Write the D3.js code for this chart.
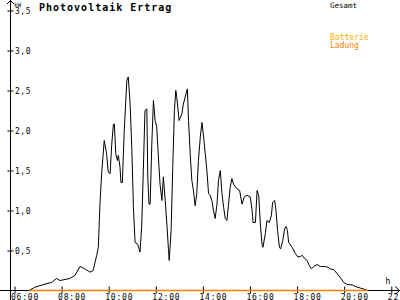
<!DOCTYPE html>
<html><head><meta charset="utf-8">
<script src="https://cdn.jsdelivr.net/npm/d3@7"></script>
<style>
html,body{margin:0;padding:0;background:#fff;}
svg{display:block;}
text{font-family:"DejaVu Sans Mono",monospace;}
</style></head>
<body><svg id="c" width="400" height="300"></svg>
<script>
const title = "Photovoltaik Ertrag";
const yUnit = "kW";
const xUnit = "h";
const legendGesamt = "Gesamt";
const legendBatterie = "Batterie";
const legendLadung = "Ladung";
const xTicks = [6, 8, 10, 12, 14, 16, 18, 20, 22];
const yTicks = [0.5, 1.0, 1.5, 2.0, 2.5, 3.0, 3.5];
const times = [6.61,6.86,7.29,7.57,7.79,7.93,8.35,8.57,8.78,8.99,
9.20,9.34,9.49,9.56,9.63,9.70,9.81,9.91,9.98,10.06,
10.13,10.20,10.24,10.30,10.37,10.41,10.48,10.52,10.58,10.66,
10.77,10.83,10.91,10.98,11.05,11.12,11.23,11.33,11.40,11.47,
11.54,11.62,11.66,11.71,11.76,11.83,11.90,11.97,12.04,12.11,
12.18,12.26,12.32,12.40,12.47,12.54,12.57,12.65,12.72,12.79,
12.85,12.89,12.99,13.11,13.17,13.34,13.39,13.46,13.53,13.60,
13.67,13.74,13.81,13.89,13.96,14.03,14.10,14.17,14.24,14.31,
14.38,14.45,14.52,14.60,14.66,14.74,14.81,14.88,14.95,15.02,
15.09,15.16,15.23,15.30,15.45,15.56,15.66,15.76,15.87,16.01,
16.09,16.13,16.23,16.30,16.37,16.44,16.51,16.55,16.65,16.72,
16.82,16.91,16.96,17.05,17.11,17.17,17.25,17.30,17.39,17.47,
17.53,17.59,17.64,17.79,17.93,18.03,18.14,18.21,18.32,18.43,
18.52,18.61,18.71,18.85,18.99,19.17,19.32,19.42,19.56,19.70,
19.84,19.98,20.13,20.34,20.48,20.69,20.91,21.0];
const gesamt = [0,0.04,0.08,0.10,0.15,0.125,0.15,0.19,0.30,0.27,
0.23,0.25,0.44,0.54,1.09,1.46,1.875,1.71,1.48,1.46,
1.83,2.08,2.08,1.71,1.625,1.69,1.54,1.35,1.35,2.0,
2.625,2.67,2.33,1.79,1.04,0.60,0.58,0.48,0.79,1.5,
2.25,2.27,1.42,1.08,1.08,1.83,2.375,2.125,2.04,1.67,
1.33,1.125,1.42,1.125,0.83,0.5,0.375,0.75,1.54,2.25,
2.5,2.42,2.125,2.21,2.33,2.52,2.125,1.71,1.375,1.25,
1.06,1.21,1.625,1.92,2.10,1.92,1.71,1.5,1.21,1.19,
1.125,1.0,0.90,1.08,1.375,1.5,1.21,1.04,0.90,0.875,
1.08,1.29,1.40,1.33,1.27,1.25,1.08,1.17,1.19,1.17,
1.0,0.85,0.85,1.25,1.19,0.83,0.58,0.54,0.71,0.875,
0.85,0.94,1.10,1.125,0.98,0.75,0.54,0.52,0.625,0.77,
0.80,0.75,0.60,0.54,0.46,0.42,0.425,0.44,0.40,0.375,
0.31,0.27,0.30,0.325,0.30,0.30,0.29,0.27,0.26,0.21,
0.16,0.10,0.075,0.07,0.05,0.03,0.01,0];
const ladungTimes = [6.61, 21.0];
const ladungValues = [0, 0];

const svg = d3.select("#c");
const x = d3.scaleLinear().domain([6, 22]).range([14.5, 391.3]);
const y = d3.scaleLinear().domain([0, 3.5]).range([290.5, 10.5]);
const axisX = 10.5;

// x axis baseline with arrow
svg.append("line").attr("x1", 0).attr("x2", 400).attr("y1", y(0)).attr("y2", y(0))
  .attr("stroke", "#000").attr("stroke-width", 1);
svg.append("path").attr("d", `M395,${y(0)-4}L399.5,${y(0)}L395,${y(0)+4}`)
  .attr("fill", "none").attr("stroke", "#000").attr("stroke-width", 1);

// y axis line with arrow
svg.append("line").attr("x1", axisX).attr("x2", axisX).attr("y1", 0).attr("y2", 300)
  .attr("stroke", "#000").attr("stroke-width", 1);
svg.append("path").attr("d", `M${axisX-3.5},4L${axisX},0.5L${axisX+3.5},4`)
  .attr("fill", "none").attr("stroke", "#000").attr("stroke-width", 1);

// y axis ticks
const fmt = d3.format(".1f");
const gy = svg.append("g").attr("transform", `translate(${axisX},0)`)
  .call(d3.axisRight(y).tickValues(yTicks).tickSize(3).tickFormat(d => fmt(d).replace(".", ",")));
gy.select(".domain").remove();
gy.selectAll(".tick line").attr("x1", -3).attr("x2", 3).attr("stroke", "#000");
gy.selectAll(".tick text").attr("x", 4.5).attr("dy", "0.32em").attr("fill", "#000")
  .style("font-family", '"DejaVu Sans Mono",monospace').style("font-size", "8px")
  .style("letter-spacing", "0.5px");

// x axis ticks
const gx = svg.append("g").attr("transform", `translate(0,${y(0)})`)
  .call(d3.axisBottom(x).tickValues(xTicks).tickSize(3)
    .tickFormat(d => String(d).padStart(2, "0") + ":00"));
gx.select(".domain").remove();
gx.selectAll(".tick line").attr("y1", -4).attr("y2", 3).attr("stroke", "#000");
gx.selectAll(".tick text").attr("y", 9).attr("dy", 0).attr("x", -4).attr("text-anchor", "start")
  .attr("fill", "#000")
  .style("font-family", '"DejaVu Sans Mono",monospace').style("font-size", "8px")
  .style("letter-spacing", "0.8px");

// series
const line = d3.line().x(d => x(d[0])).y(d => y(d[1]));
svg.append("path").datum(times.map((t, i) => [t, gesamt[i]]))
  .attr("d", line).attr("fill", "none").attr("stroke", "#000").attr("stroke-width", 1);
svg.append("path").datum(ladungTimes.map((t, i) => [t, ladungValues[i]]))
  .attr("d", line).attr("fill", "none").attr("stroke", "#ff8000").attr("stroke-width", 1.3);

// labels
svg.append("text").attr("x", 39).attr("y", 11).text(title)
  .style("font-size", "10px").style("font-weight", "bold").style("letter-spacing", "1px").attr("fill", "#000");
svg.append("text").attr("x", 14).attr("y", 7).text(yUnit)
  .style("font-size", "6px").attr("fill", "#000");
svg.append("text").attr("x", 385.5).attr("y", 284).text(xUnit)
  .style("font-size", "8px").attr("fill", "#000");
svg.append("text").attr("x", 330).attr("y", 7.5).text(legendGesamt)
  .style("font-size", "7.5px").attr("fill", "#000");
svg.append("text").attr("x", 330).attr("y", 39.5).text(legendBatterie)
  .style("font-size", "8px").attr("fill", "#ffb000");
svg.append("text").attr("x", 330).attr("y", 47.5).text(legendLadung)
  .style("font-size", "8px").attr("fill", "#ff8000");
</script></body></html>
